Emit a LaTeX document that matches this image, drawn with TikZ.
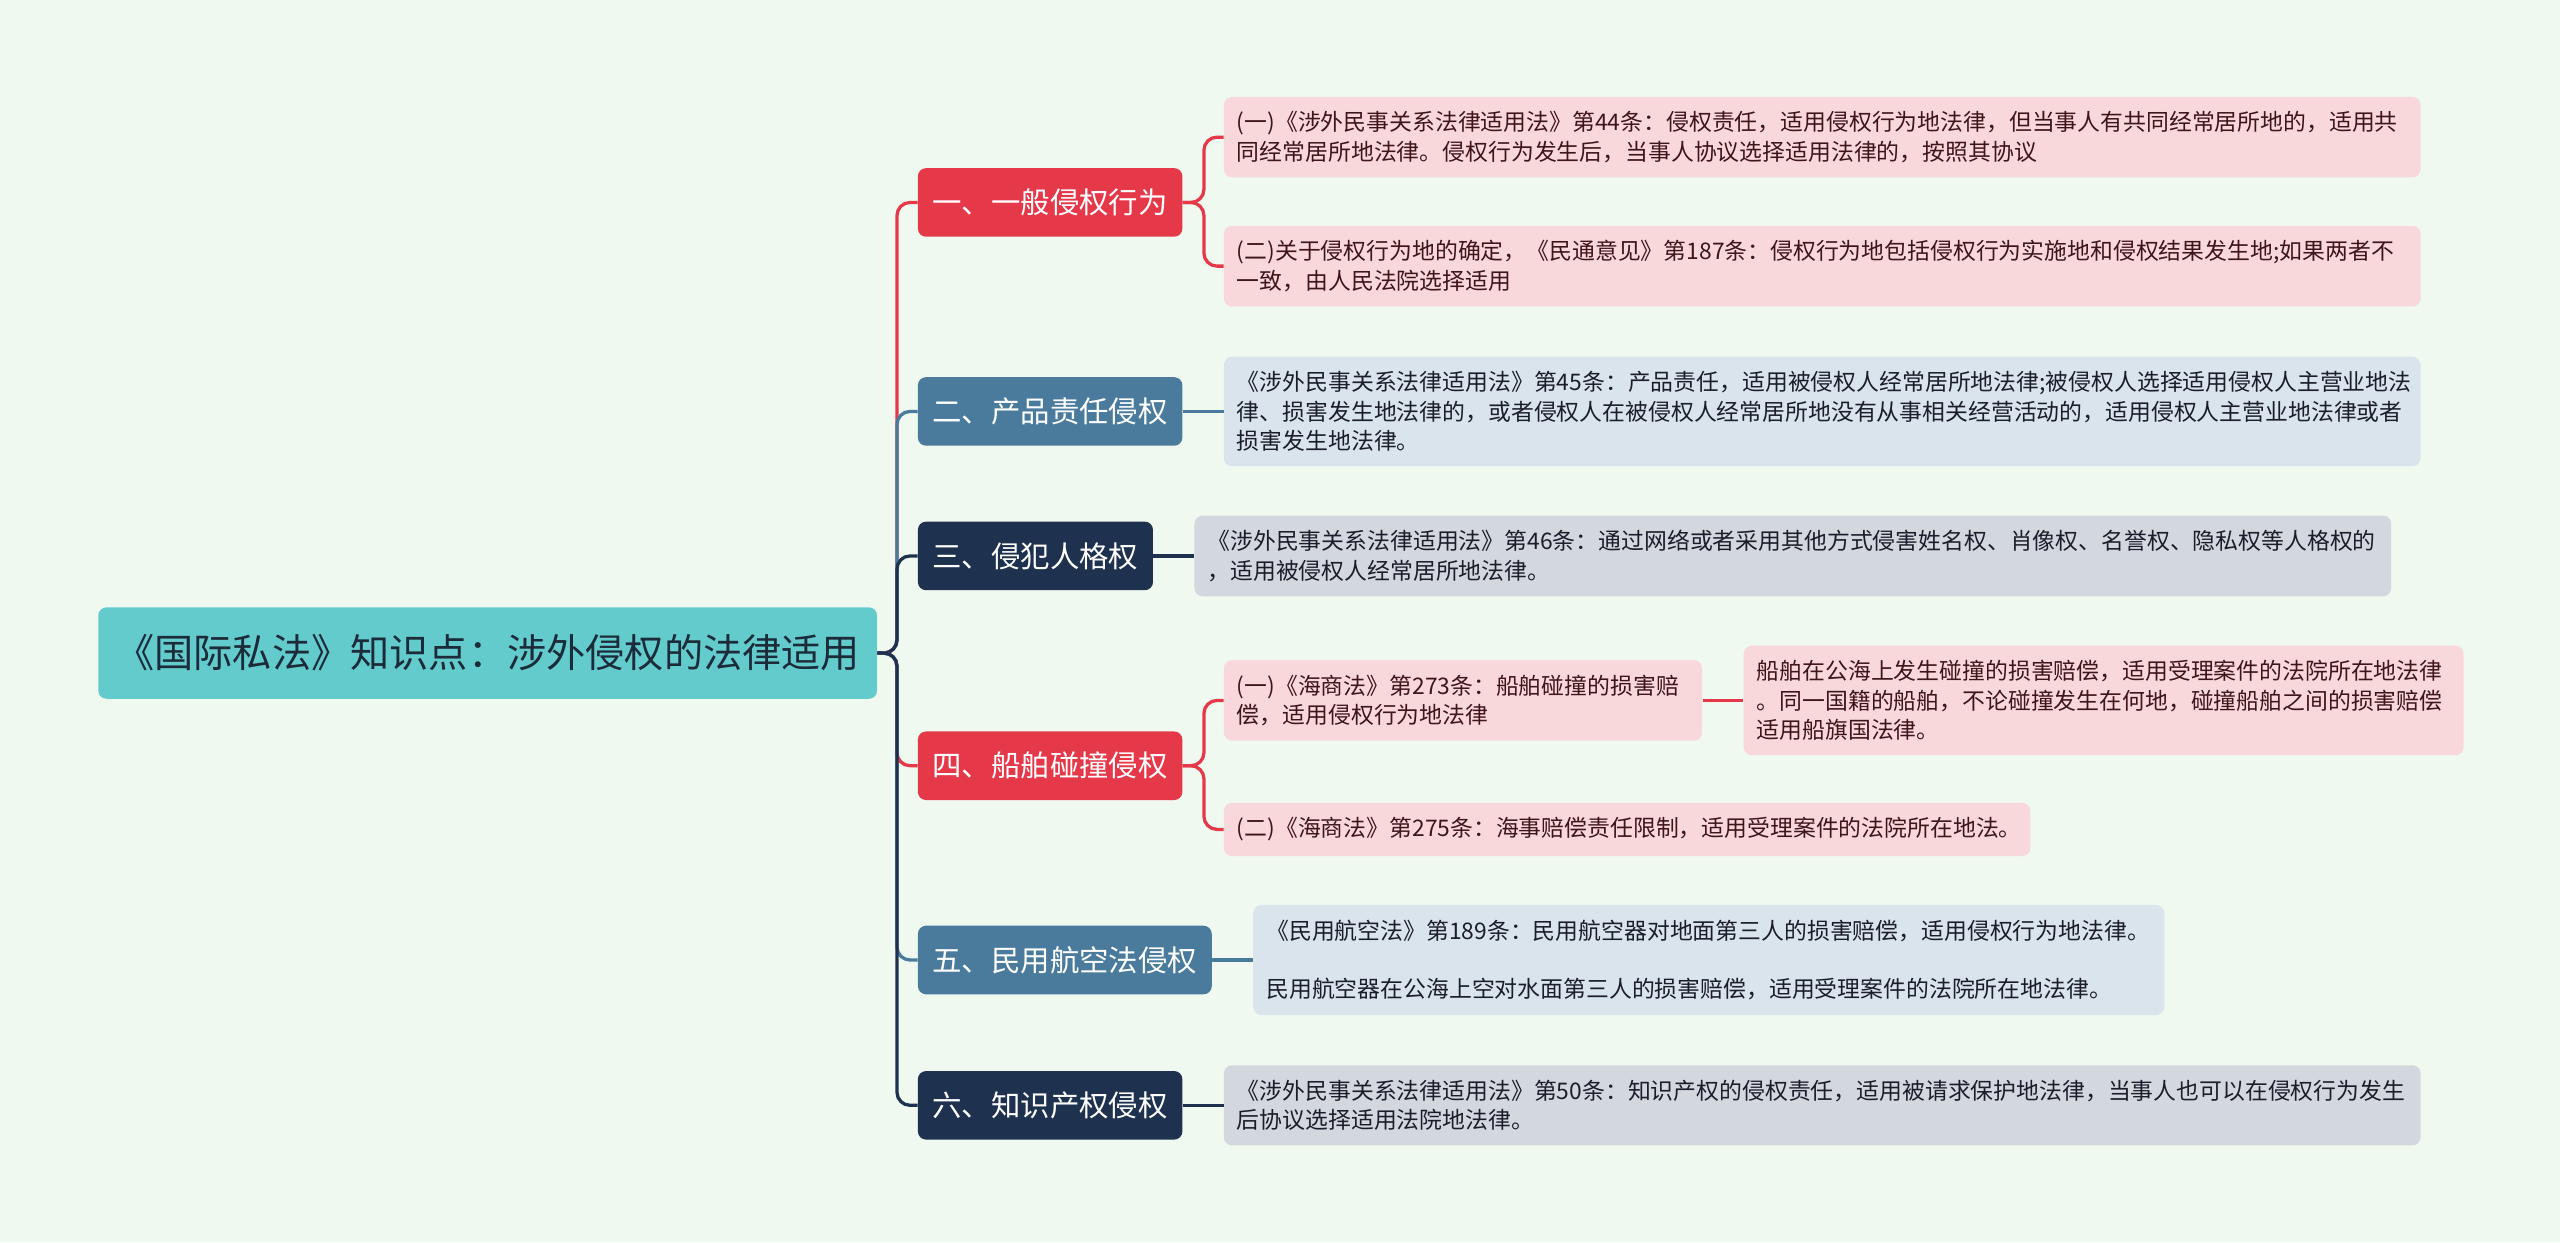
\documentclass[tikz,border=0pt]{standalone}
\usepackage{fontspec}
\setmainfont{Noto Sans CJK SC}
\usetikzlibrary{positioning}
\definecolor{bgmint}{HTML}{F0F9EF}
\definecolor{rootteal}{HTML}{63CBCC}
\definecolor{roottext}{HTML}{1C2B3A}
\definecolor{tortred}{HTML}{E5394A}
\definecolor{steel}{HTML}{4A7B9D}
\definecolor{navy}{HTML}{1E3250}
\definecolor{pinkleaf}{HTML}{F9D8DC}
\definecolor{blueleaf}{HTML}{DAE4EC}
\definecolor{greyleaf}{HTML}{D3D7DE}
\definecolor{maroon}{HTML}{3E1518}
\definecolor{inkdark}{HTML}{1B1E2A}

\begin{document}
\begin{tikzpicture}[
  x=1pt, y=-1pt,
  node distance=25pt,
  root/.style={fill=rootteal, text=roottext, rounded corners=5pt, minimum width=477pt, minimum height=56pt, font=\fontsize{24}{28}\selectfont, anchor=west},
  branch/.style={fill=#1, text=white, rounded corners=5pt, minimum height=42pt, inner xsep=9pt, font=\fontsize{18}{22}\selectfont, anchor=west},
  leafp/.style={fill=pinkleaf, text=maroon, rounded corners=5pt, inner xsep=8pt, inner ysep=9pt, align=left, font=\fontsize{14}{18}\selectfont},
  leafb/.style={leafp, fill=blueleaf, text=inkdark},
  leafg/.style={leafp, fill=greyleaf, text=inkdark},
  link/.style={draw=#1, line width=2pt, rounded corners=8pt}
]
\fill[bgmint] (0,0) rectangle (1568,761);

\node[root] (root) at (60,400) {《国际私法》知识点：涉外侵权的法律适用};

\node[branch=tortred] (b1) at (562,124) {一、一般侵权行为};
\node[branch=steel] (b2) at (562,252) {二、产品责任侵权};
\node[branch=navy] (b3) at (562,340.5) {三、侵犯人格权};
\node[branch=tortred] (b4) at (562,469) {四、船舶碰撞侵权};
\node[branch=steel] (b5) at (562,588) {五、民用航空法侵权};
\node[branch=navy] (b6) at (562,677) {六、知识产权侵权};

\node[leafp, text width=717pt, right=of b1, yshift=40pt] (l1a) {(一)《涉外民事关系法律适用法》第44条：侵权责任，适用侵权行为地法律，但当事人有共同经常居所地的，适用共\\同经常居所地法律。侵权行为发生后，当事人协议选择适用法律的，按照其协议};
\node[leafp, text width=717pt, right=of b1, yshift=-39pt] (l1b) {(二)关于侵权行为地的确定，《民通意见》第187条：侵权行为地包括侵权行为实施地和侵权结果发生地;如果两者不\\一致，由人民法院选择适用};
\node[leafb, text width=717pt, right=of b2] (l2) {《涉外民事关系法律适用法》第45条：产品责任，适用被侵权人经常居所地法律;被侵权人选择适用侵权人主营业地法\\律、损害发生地法律的，或者侵权人在被侵权人经常居所地没有从事相关经营活动的，适用侵权人主营业地法律或者\\损害发生地法律。};
\node[leafg, text width=717pt, right=of b3] (l3) {《涉外民事关系法律适用法》第46条：通过网络或者采用其他方式侵害姓名权、肖像权、名誉权、隐私权等人格权的\\，适用被侵权人经常居所地法律。};
\node[leafp, text width=277pt, right=of b4, yshift=40pt] (l4a) {(一)《海商法》第273条：船舶碰撞的损害赔\\偿，适用侵权行为地法律};
\node[leafp, text width=425pt, right=of l4a] (l4c) {船舶在公海上发生碰撞的损害赔偿，适用受理案件的法院所在地法律\\。同一国籍的船舶，不论碰撞发生在何地，碰撞船舶之间的损害赔偿\\适用船旗国法律。};
\node[leafp, text width=478pt, right=of b4, yshift=-39pt] (l4b) {(二)《海商法》第275条：海事赔偿责任限制，适用受理案件的法院所在地法。};
\node[leafb, text width=542pt, right=of b5] (l5) {《民用航空法》第189条：民用航空器对地面第三人的损害赔偿，适用侵权行为地法律。\\[18pt]民用航空器在公海上空对水面第三人的损害赔偿，适用受理案件的法院所在地法律。};
\node[leafg, text width=717pt, right=of b6] (l6) {《涉外民事关系法律适用法》第50条：知识产权的侵权责任，适用被请求保护地法律，当事人也可以在侵权行为发生\\后协议选择适用法院地法律。};

% spine
\draw[link=tortred] (root.east) -- ++(12,0) |- (b1.west);
\draw[link=steel] (root.east) -- ++(12,0) |- (b2.west);
\draw[link=navy] (root.east) -- ++(12,0) |- (b3.west);
\draw[link=tortred] (root.east) -- ++(12,0) |- (b4.west);
\draw[link=steel] (root.east) -- ++(12,0) |- (b5.west);
\draw[link=navy] (root.east) -- ++(12,0) |- (b6.west);

% leaves
\draw[link=tortred] (b1.east) -- ++(13,0) |- (l1a.west);
\draw[link=tortred] (b1.east) -- ++(13,0) |- (l1b.west);
\draw[link=steel] (b2.east) -- (l2.west);
\draw[link=navy] (b3.east) -- (l3.west);
\draw[link=tortred] (b4.east) -- ++(13,0) |- (l4a.west);
\draw[link=tortred] (b4.east) -- ++(13,0) |- (l4b.west);
\draw[link=tortred] (l4a.east) -- (l4c.west);
\draw[link=steel] (b5.east) -- (l5.west);
\draw[link=navy] (b6.east) -- (l6.west);
\end{tikzpicture}
\end{document}
